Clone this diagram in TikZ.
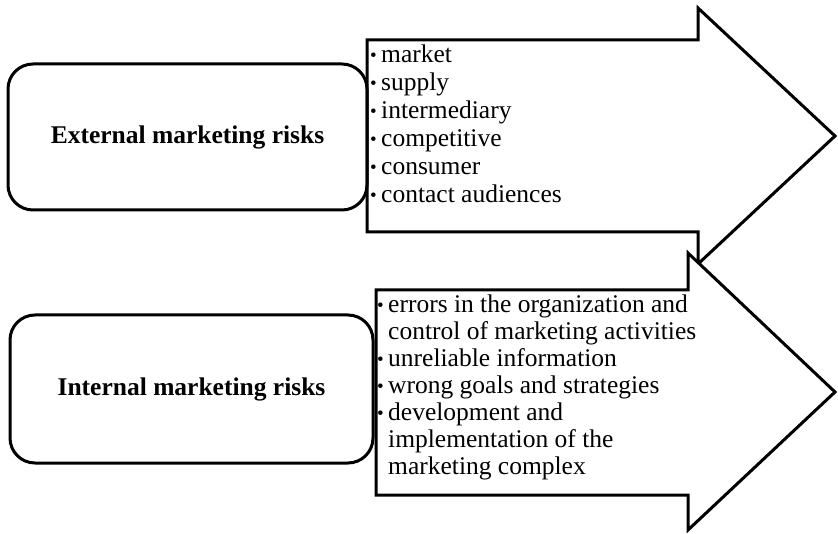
\documentclass[tikz,border=0pt]{standalone}
\usepackage{fontspec}
\setmainfont{Liberation Serif}

\newcommand{\itemdot}{\makebox[11pt][l]{\fontsize{19}{19}\selectfont\raisebox{1pt}{•}}}

\begin{document}
\begin{tikzpicture}[x=1pt,y=-1pt]

\tikzset{riskbox/.style = {draw, line width=3pt, rounded corners=25pt, font=\fontsize{25.5}{30}\selectfont\bfseries}}
\tikzset{riskarrow/.style = {draw, line width=3pt, fill=white, line join=miter}}
\tikzset{itemlist/.style = {anchor=north west, inner sep=0pt, align=left}}

\useasboundingbox (0,0) rectangle (838,534);

% arrows
\draw[riskarrow] (367,40) -- (698,40) -- (698,8) -- (835,136) -- (698,264) -- (698,232) -- (367,232) -- cycle;
\draw[riskarrow] (376,290) -- (688,290) -- (688,253) -- (835,392) -- (688,530) -- (688,495) -- (376,495) -- cycle;

% risk groups
\node[riskbox, minimum width=359pt, minimum height=146pt] (ext) at (187.5,137) {External marketing risks};
\node[riskbox, minimum width=363pt, minimum height=148pt] (int) at (191.5,389) {Internal marketing risks};

% items
\node[itemlist, font=\fontsize{25.5}{28}\selectfont] (extlist) at (370,44.4) {%
\itemdot market\\
\itemdot supply\\
\itemdot intermediary\\
\itemdot competitive\\
\itemdot consumer\\
\itemdot contact audiences};

\node[itemlist, font=\fontsize{25.5}{27}\selectfont] (intlist) at (377,294.4) {%
\itemdot errors in the organization and\\
\hspace*{11pt}control of marketing activities\\
\itemdot unreliable information\\
\itemdot wrong goals and strategies\\
\itemdot development and\\
\hspace*{11pt}implementation of the\\
\hspace*{11pt}marketing complex};

\end{tikzpicture}
\end{document}
